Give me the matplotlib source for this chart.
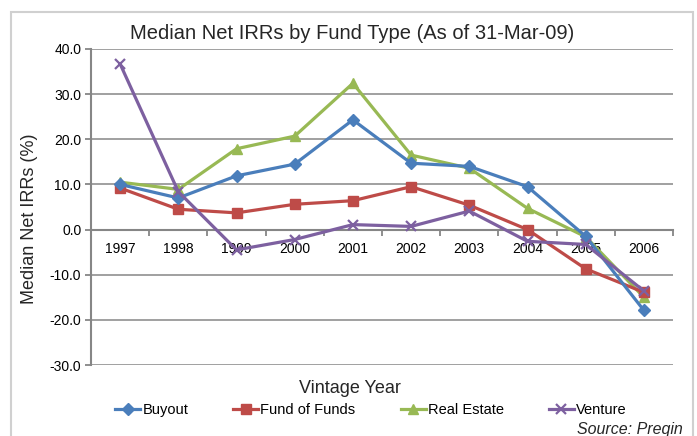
import matplotlib.pyplot as plt
from matplotlib.patches import Rectangle
from matplotlib.ticker import FixedLocator, FormatStrFormatter

plt.rcParams['font.family'] = ['Liberation Sans', 'DejaVu Sans']
plt.rcParams['axes.unicode_minus'] = False

# data
years = ['1997', '1998', '1999', '2000', '2001', '2002', '2003', '2004', '2005', '2006']
buyout = [10.0, 7.0, 11.9, 14.5, 24.3, 14.7, 14.0, 9.5, -1.5, -17.9]
fund_of_funds = [9.2, 4.5, 3.7, 5.6, 6.4, 9.5, 5.4, 0.0, -8.7, -13.9]
real_estate = [10.5, 8.9, 17.9, 20.7, 32.4, 16.5, 13.6, 4.7, -1.6, -15.0]
venture = [36.7, 8.4, -4.5, -2.2, 1.1, 0.7, 4.1, -2.6, -3.3, -13.6]

grey = '#868686'

fig = plt.figure(figsize=(6.97, 4.36), dpi=100)
ax = fig.add_axes([91 / 697, 1 - 365 / 436, (673 - 91) / 697, (365 - 49) / 436])

x = list(range(len(years)))
ax.plot(x, buyout, color='#4A7EBB', lw=2.3, marker='D', ms=6, label='Buyout', clip_on=False, zorder=5)
ax.plot(x, fund_of_funds, color='#BE4B48', lw=2.3, marker='s', ms=7, label='Fund of Funds', clip_on=False, zorder=4)
ax.plot(x, real_estate, color='#98B954', lw=2.3, marker='^', ms=7.5, label='Real Estate', clip_on=False, zorder=3)
ax.plot(x, venture, color='#7D60A0', lw=2.3, marker='x', ms=7, mew=1.6, label='Venture', clip_on=False, zorder=6)

ax.set_xlim(-0.5, len(years) - 0.5)
ax.set_ylim(-30, 40)
ax.set_yticks(range(-30, 41, 10))
ax.yaxis.set_major_formatter(FormatStrFormatter('%.1f'))
ax.yaxis.grid(True, color=grey, lw=1.1)
ax.set_axisbelow(True)

for s in ['top', 'right']:
    ax.spines[s].set_visible(False)
ax.spines['left'].set_color(grey)
ax.spines['left'].set_linewidth(1.5)
ax.spines['bottom'].set_position(('data', 0))
ax.spines['bottom'].set_color(grey)
ax.spines['bottom'].set_linewidth(1.5)

ax.xaxis.set_major_locator(FixedLocator([i - 0.5 for i in range(len(years) + 1)]))
ax.xaxis.set_minor_locator(FixedLocator(x))
ax.set_xticklabels([], minor=False)
ax.set_xticklabels(years, minor=True)
ax.tick_params(axis='x', which='major', length=4, width=1.3, color=grey, direction='out')
ax.tick_params(axis='x', which='minor', length=0, pad=9, labelsize=10)
ax.tick_params(axis='y', length=4, width=1.3, color=grey, labelsize=10, pad=3)

fig.text(352 / 697, 1 - 39 / 436, 'Median Net IRRs by Fund Type (As of 31-Mar-09)',
         ha='center', va='baseline', fontsize=14.5, color='#262626')
fig.text(30 / 697, 1 - 219 / 436, 'Median Net IRRs (%)', rotation=90,
         ha='center', va='center', fontsize=13, color='#262626')
fig.text(350 / 697, 1 - 393 / 436, 'Vintage Year', ha='center', va='baseline',
         fontsize=13, color='#262626')
fig.text(683 / 697, 1 - 422 / 436, 'Source: Preqin', ha='right', va='top',
         fontsize=11.5, style='italic', color='#262626')

fig.legend(loc='center', bbox_to_anchor=(371 / 697, 1 - 410 / 436), ncol=4, frameon=False,
           fontsize=10.5, handlelength=1.7, handletextpad=0.15, columnspacing=3.1)

fig.patches.append(Rectangle((11 / 697, -0.05), (693 - 11) / 697, 1 - 12 / 436 + 0.05,
                             transform=fig.transFigure, fill=False, edgecolor='#D0D0D0', lw=1.5))

fig.savefig('out.png', dpi=100)
